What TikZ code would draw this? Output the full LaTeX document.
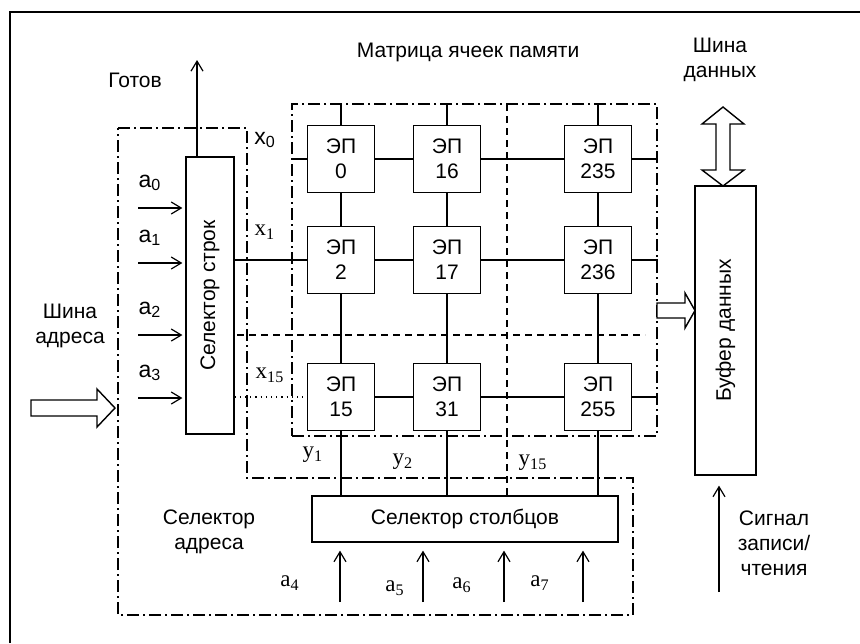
\documentclass[tikz,border=0pt]{standalone}
\usepackage{fontspec}
\setmainfont{Liberation Sans}
\newfontfamily\lbserif{Liberation Serif}
\usetikzlibrary{arrows.meta,positioning}

\begin{document}
\begin{tikzpicture}[x=0.5pt,y=-0.5pt,line width=0.6pt,
  >={Straight Barb[length=5pt,width=6pt]},
  every node/.style={font=\fontsize{10.5}{12.5}\selectfont},
  cell/.style={draw,minimum width=33.5pt,minimum height=33.5pt,align=center,inner sep=1pt},
  blk/.style={draw,inner sep=0pt},
  sub/.style={font=\fontsize{11.5}{13}\selectfont},
  boxline/.style={dash pattern=on 6pt off 2pt on 1pt off 2pt},
  sepline/.style={dash pattern=on 3.5pt off 2.5pt},
  hollow/.style={draw,fill=white,line width=0.7pt,line join=miter}]
  \useasboundingbox (0,0) rectangle (860,643);

  % frame of the page
  \draw (10,643) -- (10,12) -- (860,12);

  % address selector and memory matrix
  \draw[boxline] (118,128) -- (247,128) -- (247,478) -- (633,478) -- (633,615) -- (118,615) -- cycle;
  \node[draw,boxline,minimum width=182.5pt,minimum height=166pt,inner sep=0pt] (mem) at (474.5,270) {};
  \draw[sepline] (507,104) -- (507,496);
  \draw[sepline] (237,335) -- (645,335);

  % memory cells
  \foreach \n/\c/\r in {0/341/159,16/447/159,235/598/159,
                        2/341/260,17/447/260,236/598/260,
                        15/341/397,31/447/397,255/598/397}
    \node[cell] (ep\n) at (\c,\r) {ЭП\\\n};

  % selectors and buffer
  \node[blk,minimum width=24pt,minimum height=138.5pt] (rowsel) at (210,295.5) {};
  \node[rotate=90] (rowtxt) at (rowsel) {Селектор строк};
  \node[blk,minimum width=153pt,minimum height=23pt] (colsel) at (465,519) {Селектор столбцов};
  \node[blk,minimum width=30.5pt,minimum height=144.5pt] (buf) at (725.5,330.5) {};
  \node[rotate=90] (buftxt) at (buf) {Буфер данных};

  % rows and columns of the matrix
  \foreach \a/\b/\c in {0/16/235,2/17/236,15/31/255}
    \draw (ep\a) -- (ep\b) -- (ep\c) (ep\c.east) -- (ep\c.east -| mem.east);
  \foreach \a/\b/\c in {0/2/15,16/17/31,235/236/255}
    \draw (ep\a.north |- mem.north) -- (ep\a) -- (ep\b) -- (ep\c) -- (ep\c.south |- colsel.north);
  \draw (ep0.west -| mem.west) -- (ep0.west);
  \draw (ep2.west -| rowsel.east) -- (ep2.west);
  \draw[dotted] (ep15.west -| rowsel.east) -- (ep15.west);

  % address inputs
  \foreach \i/\y in {0/208,1/263,2/335,3/398} {
    \coordinate (ain\i) at (138,\y);
    \draw[->,shorten >=1.5pt] (ain\i) -- (ain\i -| rowsel.west);
    \node[sub] (alb\i) at (150,\y-25) {a\textsubscript{\i}};
  }
  \foreach \i/\x/\lx/\ly in {4/340/290/583,5/423/395/588,6/504/462/585,7/583/540/583} {
    \coordinate (ain\i) at (\x,602);
    \draw[->,shorten >=4pt] (ain\i) -- (ain\i |- colsel.south);
    \node[sub] (alb\i) at (\lx,\ly) {\lbserif a\textsubscript{\i}};
  }

  % ready and read/write signals
  \coordinate (ready) at (197,60);
  \draw[->] (ready |- rowsel.north) -- (ready);
  \coordinate (rw) at (719,592);
  \draw[->,shorten >=5pt] (rw) -- (rw |- buf.south);

  % buses
  \draw[hollow] (31,400) -- (97,400) -- (97,389) -- (115,408) -- (97,427) -- (97,416) -- (31,416) -- cycle;
  \draw[hollow] (657,303) -- (685,303) -- (685,293) -- (695,310.5) -- (685,328) -- (685,318) -- (657,318) -- cycle;
  \draw[hollow] (723,107) -- (744,124) -- (730,124) -- (730,170) -- (744,170) -- (723,186)
    -- (702,170) -- (716,170) -- (716,124) -- (702,124) -- cycle;

  % labels
  \node (readylbl) at (135,80) {Готов};
  \node (memlbl) at (468,52) {Матрица ячеек памяти};
  \node[align=center] (dbus) at (720,60) {Шина\\данных};
  \node[align=center] (abus) at (70,326) {Шина\\адреса};
  \node[align=center] (asel) at (209,532) {Селектор\\адреса};
  \node[align=center] (rwlbl) at (774,543) {Сигнал\\записи/\\чтения};
  \node[sub] (x0) at (265,140) {x\textsubscript{0}};
  \node[sub] (x1) at (265,232) {\lbserif x\textsubscript{1}};
  \node[sub] (x15) at (270,375) {\lbserif x\textsubscript{15}};
  \node[sub] (y1) at (313,455) {\lbserif y\textsubscript{1}};
  \node[sub] (y2) at (403,462) {\lbserif y\textsubscript{2}};
  \node[sub] (y15) at (533,463) {\lbserif y\textsubscript{15}};
\end{tikzpicture}
\end{document}
